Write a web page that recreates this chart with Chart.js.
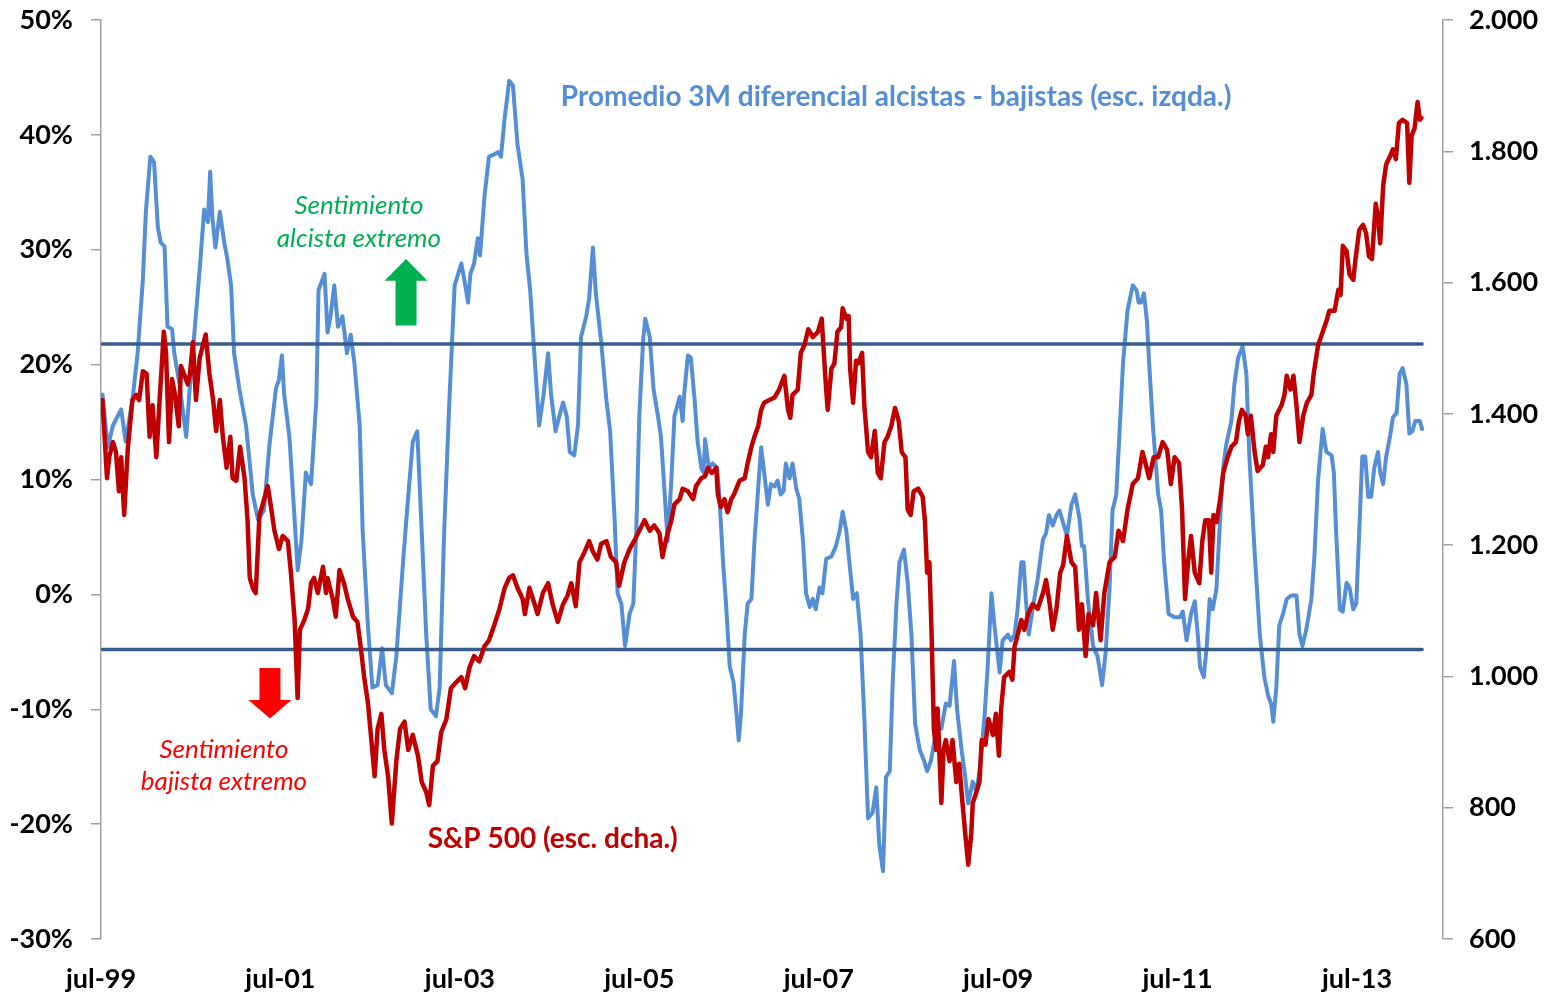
<!DOCTYPE html>
<html><head><meta charset="utf-8">
<script src="https://cdn.jsdelivr.net/npm/chart.js@4.4.1/dist/chart.umd.min.js"></script>
<style>html,body{margin:0;padding:0;background:#fff}#wrap{width:1557px;height:995px;position:relative}</style>
</head><body><div id="wrap"><canvas id="c" width="1557" height="995"></canvas></div>
<script>
// x values: months since jul-99
const sentimentSeries = [[0.2,17.4],[0.9,12.8],[1.6,14.7],[2.7,16.1],[3.3,13.3],[4.2,16.9],[4.9,21.0],[5.6,27.4],[6.0,33.3],[6.6,38.1],[7.1,37.6],[7.6,32.0],[8.0,30.6],[8.5,30.3],[8.9,23.3],[9.5,23.1],[9.8,21.0],[10.5,18.3],[11.4,13.7],[11.8,17.4],[12.5,22.8],[13.2,28.3],[13.8,33.5],[14.3,32.4],[14.6,36.8],[14.9,32.8],[15.3,30.2],[15.9,33.3],[16.5,30.6],[16.9,29.2],[17.4,26.9],[17.8,21.0],[18.5,17.9],[19.4,14.7],[20.3,8.7],[21.0,6.5],[21.8,7.3],[22.5,12.8],[23.4,17.9],[23.8,18.7],[24.2,20.8],[24.5,17.4],[25.2,13.7],[25.9,6.5],[26.3,2.1],[26.8,4.6],[27.4,10.6],[28.1,9.6],[28.8,16.9],[29.1,26.5],[29.9,27.9],[30.3,22.8],[30.7,24.2],[31.2,26.9],[31.7,23.3],[32.3,24.2],[32.9,21.0],[33.4,22.6],[33.9,20.1],[34.6,14.7],[35.0,5.5],[35.7,-2.7],[36.3,-8.1],[37.0,-7.9],[37.6,-4.7],[38.1,-7.9],[38.9,-8.6],[39.5,-5.4],[40.4,2.8],[41.0,7.8],[41.7,13.3],[42.3,14.2],[42.8,6.9],[43.5,-3.5],[44.1,-10.0],[44.8,-10.6],[45.3,-8.1],[45.9,5.5],[46.6,16.9],[47.3,26.9],[48.2,28.8],[48.6,27.4],[49.1,25.4],[49.4,27.9],[49.9,28.8],[50.4,31.0],[50.7,29.5],[51.3,34.7],[51.9,38.1],[52.6,38.3],[53.1,38.5],[53.5,38.1],[54.0,41.5],[54.6,44.7],[55.1,44.3],[55.7,39.2],[56.4,36.1],[56.9,29.7],[57.4,26.5],[58.0,20.6],[58.6,14.7],[59.2,17.4],[59.8,21.0],[60.2,17.4],[60.8,14.2],[61.3,15.5],[61.8,16.7],[62.3,15.5],[62.7,12.4],[63.3,12.1],[63.8,14.7],[64.2,22.4],[64.9,24.2],[65.3,25.8],[65.8,30.2],[66.2,26.1],[66.9,22.0],[67.6,16.9],[68.1,14.2],[68.7,6.5],[69.1,0.1],[69.6,-0.8],[70.1,-4.5],[70.7,-1.7],[71.2,-0.8],[71.6,5.5],[72.0,15.5],[72.5,22.0],[72.8,24.0],[73.4,22.4],[73.9,17.9],[74.5,15.5],[74.9,13.7],[75.4,8.7],[75.8,4.6],[76.3,10.1],[76.7,15.5],[77.4,17.2],[77.8,15.1],[78.0,17.4],[78.5,20.8],[78.9,20.6],[79.4,16.9],[79.8,13.3],[80.3,11.0],[80.6,10.6],[80.8,13.5],[81.3,11.0],[81.8,11.4],[82.4,11.0],[82.7,8.7],[83.2,2.8],[83.6,-0.8],[84.1,-6.3],[84.6,-7.6],[85.0,-10.4],[85.3,-12.7],[85.6,-10.4],[86.1,-3.5],[86.5,-0.8],[87.0,-0.4],[87.4,4.6],[87.9,9.2],[88.3,12.8],[88.7,10.6],[89.2,7.8],[89.6,9.6],[90.1,9.4],[90.5,9.9],[90.9,8.7],[91.3,9.0],[91.6,11.4],[92.1,10.1],[92.5,11.4],[93.0,9.2],[93.4,8.3],[93.9,4.6],[94.3,0.1],[94.8,-1.1],[95.2,-0.4],[95.6,-1.3],[96.1,0.6],[96.5,0.1],[97.0,3.1],[97.7,3.3],[98.3,4.2],[98.8,5.5],[99.2,7.2],[99.7,5.5],[100.1,2.8],[100.6,-0.4],[101.1,0.1],[101.6,-3.5],[102.1,-10.8],[102.6,-19.5],[103.2,-19.0],[103.7,-16.8],[104.1,-21.8],[104.6,-24.1],[105.0,-15.9],[105.5,-15.4],[105.9,-7.6],[106.4,-0.8],[106.8,2.8],[107.4,3.9],[107.9,1.0],[108.4,-3.5],[108.9,-11.3],[109.5,-13.5],[110.1,-14.5],[110.5,-15.4],[111.0,-14.5],[111.5,-12.7],[111.9,-11.3],[112.4,-11.7],[113.0,-9.5],[113.5,-9.7],[114.1,-5.8],[114.5,-10.0],[115.1,-13.5],[115.5,-15.4],[116.0,-18.2],[116.6,-16.3],[117.1,-17.2],[117.6,-14.9],[118.2,-10.4],[118.6,-6.3],[119.1,0.1],[119.5,-2.7],[120.2,-6.8],[120.6,-4.0],[121.3,-3.5],[121.7,-4.0],[122.2,-3.5],[122.6,-1.3],[123.1,2.8],[123.4,2.8],[123.7,-0.4],[124.1,-3.5],[124.6,-1.3],[125.3,1.4],[126.0,4.8],[126.4,5.3],[126.8,6.9],[127.3,6.0],[127.8,6.9],[128.2,7.3],[128.7,6.2],[129.2,5.1],[129.8,7.8],[130.3,8.7],[130.9,6.5],[131.2,4.2],[131.5,4.2],[132.0,-0.4],[132.7,-4.5],[133.3,-5.4],[133.9,-7.9],[134.4,-4.9],[134.9,0.6],[135.3,7.3],[135.8,8.7],[136.2,13.7],[136.7,20.1],[137.3,24.7],[138.0,26.9],[138.5,26.5],[138.8,25.4],[139.1,25.4],[139.5,26.2],[139.9,23.8],[140.2,20.1],[140.7,14.7],[141.4,8.7],[141.8,7.3],[142.2,2.8],[142.8,-1.7],[143.6,-2.0],[144.3,-2.0],[144.7,-1.5],[145.2,-4.0],[145.8,-1.7],[146.3,-0.6],[146.7,-3.5],[147.0,-6.3],[147.5,-7.2],[147.9,-4.5],[148.3,-0.4],[148.7,-1.3],[149.2,0.5],[149.6,5.5],[150.1,11.0],[150.5,13.0],[151.2,15.1],[151.6,18.3],[152.1,20.6],[152.7,21.6],[153.2,19.2],[153.6,12.0],[154.3,3.7],[155.0,-3.5],[155.6,-7.2],[156.1,-8.8],[156.5,-9.5],[156.8,-11.1],[157.2,-8.1],[157.6,-2.7],[158.1,-1.7],[158.6,-0.4],[159.2,-0.1],[159.9,-0.1],[160.3,-3.5],[160.7,-4.5],[161.2,-3.1],[161.9,-0.4],[162.3,3.3],[162.8,10.1],[163.4,14.4],[163.9,12.4],[164.6,12.1],[164.9,10.6],[165.2,5.5],[165.7,-1.3],[166.1,-1.5],[166.6,1.0],[167.0,0.6],[167.5,-1.3],[167.9,-0.8],[168.3,5.5],[168.7,12.0],[169.1,12.0],[169.5,8.5],[169.9,8.5],[170.3,11.0],[170.8,12.4],[171.1,10.6],[171.5,9.6],[171.9,12.0],[172.4,13.7],[172.8,15.4],[173.3,15.8],[173.7,19.2],[174.1,19.7],[174.6,18.3],[175.0,14.0],[175.4,14.2],[175.8,15.1],[176.4,15.1],[176.7,14.4]];

const spxSeries = [[0.2,1421],[0.8,1302],[1.1,1334],[1.6,1357],[2.0,1342],[2.4,1282],[2.7,1334],[3.1,1246],[3.6,1350],[4.2,1421],[4.7,1429],[5.1,1421],[5.6,1465],[6.1,1461],[6.5,1365],[6.9,1413],[7.4,1334],[7.8,1413],[8.4,1525],[8.7,1493],[9.1,1357],[9.5,1453],[9.9,1429],[10.4,1381],[10.7,1473],[11.1,1461],[11.6,1445],[11.9,1461],[12.3,1509],[12.7,1421],[13.2,1485],[14.0,1521],[14.5,1461],[15.0,1421],[15.4,1374],[15.9,1421],[16.3,1365],[16.8,1318],[17.3,1365],[17.6,1302],[18.1,1298],[18.6,1350],[19.2,1302],[19.6,1238],[19.9,1150],[20.3,1135],[20.7,1127],[21.2,1246],[21.6,1261],[22.3,1290],[22.7,1261],[23.2,1222],[23.8,1194],[24.3,1214],[25.0,1206],[25.4,1158],[25.9,1086],[26.3,967],[26.6,1071],[27.2,1086],[27.7,1103],[28.1,1142],[28.5,1150],[29.0,1127],[29.7,1167],[30.1,1127],[30.3,1150],[31.0,1118],[31.4,1091],[31.9,1162],[32.5,1142],[33.0,1118],[33.7,1091],[34.3,1083],[34.8,1039],[35.2,999],[35.7,960],[36.1,911],[36.6,848],[37.0,920],[37.5,943],[37.9,888],[38.4,848],[38.9,776],[39.5,871],[40.0,920],[40.6,931],[41.1,888],[41.7,911],[42.4,879],[42.9,839],[43.5,824],[43.9,804],[44.4,864],[45.0,871],[45.5,915],[46.2,935],[46.8,982],[47.5,991],[48.2,999],[48.7,982],[49.3,1014],[49.9,1031],[50.6,1023],[51.3,1046],[51.9,1055],[52.6,1078],[53.3,1103],[54.0,1135],[54.6,1150],[55.1,1154],[55.7,1135],[56.4,1118],[56.7,1095],[57.3,1135],[58.0,1110],[58.4,1095],[59.1,1127],[59.8,1142],[60.4,1110],[61.1,1083],[61.8,1110],[62.4,1123],[62.9,1142],[63.5,1107],[64.0,1174],[64.7,1190],[65.3,1206],[65.8,1190],[66.4,1178],[66.9,1202],[67.6,1206],[68.2,1182],[68.9,1174],[69.3,1138],[70.0,1174],[70.7,1194],[71.3,1206],[72.0,1222],[72.7,1238],[73.4,1222],[74.0,1230],[74.7,1218],[75.1,1182],[75.6,1210],[76.3,1238],[76.7,1262],[77.4,1270],[77.8,1286],[78.5,1282],[79.2,1270],[79.6,1290],[80.3,1302],[80.8,1305],[81.2,1318],[81.7,1310],[82.3,1318],[82.5,1278],[82.9,1258],[83.4,1270],[83.8,1250],[84.3,1270],[84.7,1278],[85.4,1298],[86.1,1302],[86.5,1325],[87.0,1350],[87.4,1365],[87.9,1381],[88.3,1406],[88.7,1417],[89.4,1421],[90.1,1425],[90.7,1437],[91.4,1458],[91.9,1406],[92.2,1394],[92.5,1429],[93.2,1437],[93.6,1493],[94.1,1505],[94.6,1529],[95.2,1517],[95.9,1525],[96.4,1545],[96.9,1453],[97.2,1406],[97.7,1469],[98.1,1477],[98.5,1525],[99.0,1532],[99.2,1561],[99.7,1545],[100.0,1549],[100.2,1469],[100.6,1417],[101.0,1481],[101.3,1477],[101.8,1493],[102.1,1413],[102.6,1342],[103.0,1334],[103.5,1374],[103.9,1310],[104.3,1302],[104.8,1357],[105.2,1365],[105.7,1381],[106.2,1409],[106.7,1389],[107.1,1342],[107.6,1334],[107.9,1254],[108.3,1246],[108.7,1282],[109.3,1286],[109.9,1274],[110.2,1238],[110.5,1158],[110.8,1174],[111.1,1063],[111.4,920],[111.7,888],[111.9,951],[112.4,807],[112.7,888],[113.0,903],[113.5,871],[113.9,903],[114.4,839],[114.8,867],[115.1,824],[115.6,760],[116.0,713],[116.4,760],[116.6,807],[117.1,824],[117.5,839],[117.8,903],[118.3,896],[118.7,935],[119.3,911],[119.7,943],[120.1,879],[120.4,951],[120.8,999],[121.5,1007],[121.9,995],[122.2,1046],[122.6,1063],[123.1,1086],[123.5,1071],[124.0,1095],[124.6,1110],[125.3,1103],[126.0,1127],[126.4,1147],[126.9,1110],[127.3,1071],[127.8,1103],[128.3,1158],[128.7,1170],[129.2,1214],[129.8,1174],[130.3,1167],[130.8,1071],[131.2,1110],[131.7,1031],[132.1,1095],[132.7,1078],[133.1,1127],[133.7,1055],[134.2,1127],[134.9,1174],[135.6,1182],[136.1,1222],[136.7,1206],[137.3,1254],[138.0,1293],[138.7,1302],[139.3,1342],[139.7,1325],[140.2,1302],[140.8,1334],[141.4,1334],[142.0,1357],[142.6,1345],[143.1,1293],[143.6,1334],[144.2,1325],[144.6,1254],[145.0,1118],[145.4,1174],[145.8,1214],[146.3,1158],[146.9,1142],[147.3,1206],[147.7,1238],[148.2,1238],[148.5,1158],[148.8,1246],[149.2,1235],[149.7,1270],[150.1,1310],[150.7,1334],[151.2,1350],[151.8,1357],[152.2,1389],[152.6,1406],[153.1,1397],[153.4,1369],[153.8,1397],[154.3,1342],[154.7,1313],[155.4,1322],[155.8,1350],[156.1,1334],[156.5,1369],[156.8,1342],[157.2,1397],[157.9,1413],[158.3,1429],[158.6,1458],[159.1,1437],[159.5,1458],[159.9,1413],[160.3,1357],[160.8,1397],[161.3,1417],[161.9,1429],[162.2,1461],[162.8,1505],[163.3,1521],[163.9,1541],[164.3,1557],[165.0,1557],[165.5,1589],[165.8,1581],[166.1,1656],[166.6,1648],[167.0,1612],[167.5,1604],[167.8,1636],[168.3,1680],[168.8,1688],[169.2,1676],[169.6,1640],[170.0,1636],[170.5,1720],[170.8,1700],[171.1,1660],[171.5,1748],[171.9,1780],[172.4,1792],[172.8,1803],[173.2,1788],[173.6,1843],[174.1,1848],[174.7,1843],[175.0,1752],[175.3,1824],[175.7,1835],[176.1,1875],[176.4,1848],[176.6,1851]];

const upperBand = 21.8;
const lowerBand = -4.8;

const xTickMonths = [0, 24, 48, 72, 96, 120, 144, 168];
const xTickLabels = ['jul-99','jul-01','jul-03','jul-05','jul-07','jul-09','jul-11','jul-13'];
const leftTickValues = [-30, -20, -10, 0, 10, 20, 30, 40, 50];
const leftTickLabels = ['-30%','-20%','-10%','0%','10%','20%','30%','40%','50%'];
const rightTickValues = [600, 800, 1000, 1200, 1400, 1600, 1800, 2000];
const rightTickLabels = ['600','800','1.000','1.200','1.400','1.600','1.800','2.000'];

const BLUE = '#558ED5', RED = '#C00000', BAND = '#385D8A', GREEN = '#00B050', ARROWRED = '#FF0000';
const AXIS = '#A0A0A0';
const FONT = 'Lato';

const toXY = s => s.map(p => ({x: p[0], y: p[1]}));
const firstM = sentimentSeries[0][0], lastM = sentimentSeries[sentimentSeries.length - 1][0];

const annot = {
  id: 'annot',
  afterDraw(chart) {
    const {ctx, scales: {x, y}} = chart;
    const X = v => x.getPixelForValue(v), Y = v => y.getPixelForValue(v);
    ctx.save();
    ctx.textBaseline = 'middle';
    // series labels
    ctx.font = `bold 28px ${FONT}`;
    ctx.fillStyle = BLUE; ctx.textAlign = 'left';
    ctx.fillText('Promedio 3M diferencial alcistas - bajistas (esc. izqda.)', X(61.5), Y(43.3));
    ctx.fillStyle = RED;
    ctx.fillText('S&P 500 (esc. dcha.)', X(43.7), Y(-21.3));
    // extreme sentiment notes
    ctx.font = `italic 26px ${FONT}`;
    ctx.textAlign = 'center';
    ctx.fillStyle = GREEN;
    ctx.fillText('Sentimiento', X(34.5), Y(33.8));
    ctx.fillText('alcista extremo', X(34.5), Y(31.0));
    ctx.fillStyle = ARROWRED;
    ctx.fillText('Sentimiento', X(16.45), Y(-13.5));
    ctx.fillText('bajista extremo', X(16.45), Y(-16.3));
    // green up arrow
    let cx = X(40.8);
    ctx.fillStyle = GREEN;
    ctx.beginPath();
    ctx.moveTo(cx, Y(29.2));
    ctx.lineTo(cx + 21.5, Y(27.3));
    ctx.lineTo(cx + 10.5, Y(27.3));
    ctx.lineTo(cx + 10.5, Y(23.4));
    ctx.lineTo(cx - 10.5, Y(23.4));
    ctx.lineTo(cx - 10.5, Y(27.3));
    ctx.lineTo(cx - 21.5, Y(27.3));
    ctx.closePath(); ctx.fill();
    // red down arrow
    cx = X(22.6);
    ctx.fillStyle = ARROWRED;
    ctx.beginPath();
    ctx.moveTo(cx - 10.5, Y(-6.4));
    ctx.lineTo(cx + 10.5, Y(-6.4));
    ctx.lineTo(cx + 10.5, Y(-9.2));
    ctx.lineTo(cx + 21.5, Y(-9.2));
    ctx.lineTo(cx, Y(-10.8));
    ctx.lineTo(cx - 21.5, Y(-9.2));
    ctx.lineTo(cx - 10.5, Y(-9.2));
    ctx.closePath(); ctx.fill();
    ctx.restore();
  }
};

const tickFont = {family: FONT, size: 27, weight: 'bold'};
const fitY = w => s => { s.width = w; s.paddingTop = 0; s.paddingBottom = 0; };

new Chart(document.getElementById('c'), {
  type: 'line',
  data: {
    datasets: [
      {label: 'S&P 500 (esc. dcha.)', data: toXY(spxSeries), yAxisID: 'y2', borderColor: RED, borderWidth: 4.5, order: 0},
      {label: 'upper', data: [{x: firstM, y: upperBand}, {x: lastM, y: upperBand}], yAxisID: 'y', borderColor: BAND, borderWidth: 3.5, order: 1},
      {label: 'lower', data: [{x: firstM, y: lowerBand}, {x: lastM, y: lowerBand}], yAxisID: 'y', borderColor: BAND, borderWidth: 3.5, order: 1},
      {label: 'Promedio 3M diferencial alcistas - bajistas (esc. izqda.)', data: toXY(sentimentSeries), yAxisID: 'y', borderColor: BLUE, borderWidth: 4, order: 2}
    ]
  },
  options: {
    responsive: false,
    animation: false,
    events: [],
    layout: {padding: {top: 20, left: 0, right: 0, bottom: 0}},
    elements: {point: {radius: 0}, line: {tension: 0, borderJoinStyle: 'round', borderCapStyle: 'round', fill: false}},
    plugins: {legend: {display: false}, tooltip: {enabled: false}, title: {display: false}},
    scales: {
      x: {
        type: 'linear', min: 0, max: 179.5,
        grid: {display: false, drawTicks: false},
        border: {display: false},
        afterBuildTicks: s => { s.ticks = xTickMonths.map(v => ({value: v})); },
        afterFit: s => { s.height = 56; s.paddingLeft = 0; s.paddingRight = 0; },
        ticks: {
          autoSkip: false, maxRotation: 0, minRotation: 0, padding: 24,
          color: '#000', font: tickFont,
          callback: v => xTickLabels[xTickMonths.indexOf(v)]
        }
      },
      y: {
        position: 'left', min: -30, max: 50,
        grid: {drawOnChartArea: false, drawTicks: true, tickLength: 10, color: AXIS, lineWidth: 1.5},
        border: {display: true, color: AXIS, width: 1.5},
        afterBuildTicks: s => { s.ticks = leftTickValues.map(v => ({value: v})); },
        afterFit: fitY(101),
        ticks: {
          padding: 18, color: '#000', font: tickFont,
          callback: v => leftTickLabels[leftTickValues.indexOf(v)]
        }
      },
      y2: {
        position: 'right', min: 600, max: 2000,
        grid: {drawOnChartArea: false, drawTicks: true, tickLength: 10, color: AXIS, lineWidth: 1.5},
        border: {display: true, color: AXIS, width: 1.5},
        afterBuildTicks: s => { s.ticks = rightTickValues.map(v => ({value: v})); },
        afterFit: fitY(114),
        ticks: {
          padding: 16, color: '#000', font: tickFont,
          callback: v => rightTickLabels[rightTickValues.indexOf(v)]
        }
      }
    }
  },
  plugins: [annot]
});
</script>
</body></html>
